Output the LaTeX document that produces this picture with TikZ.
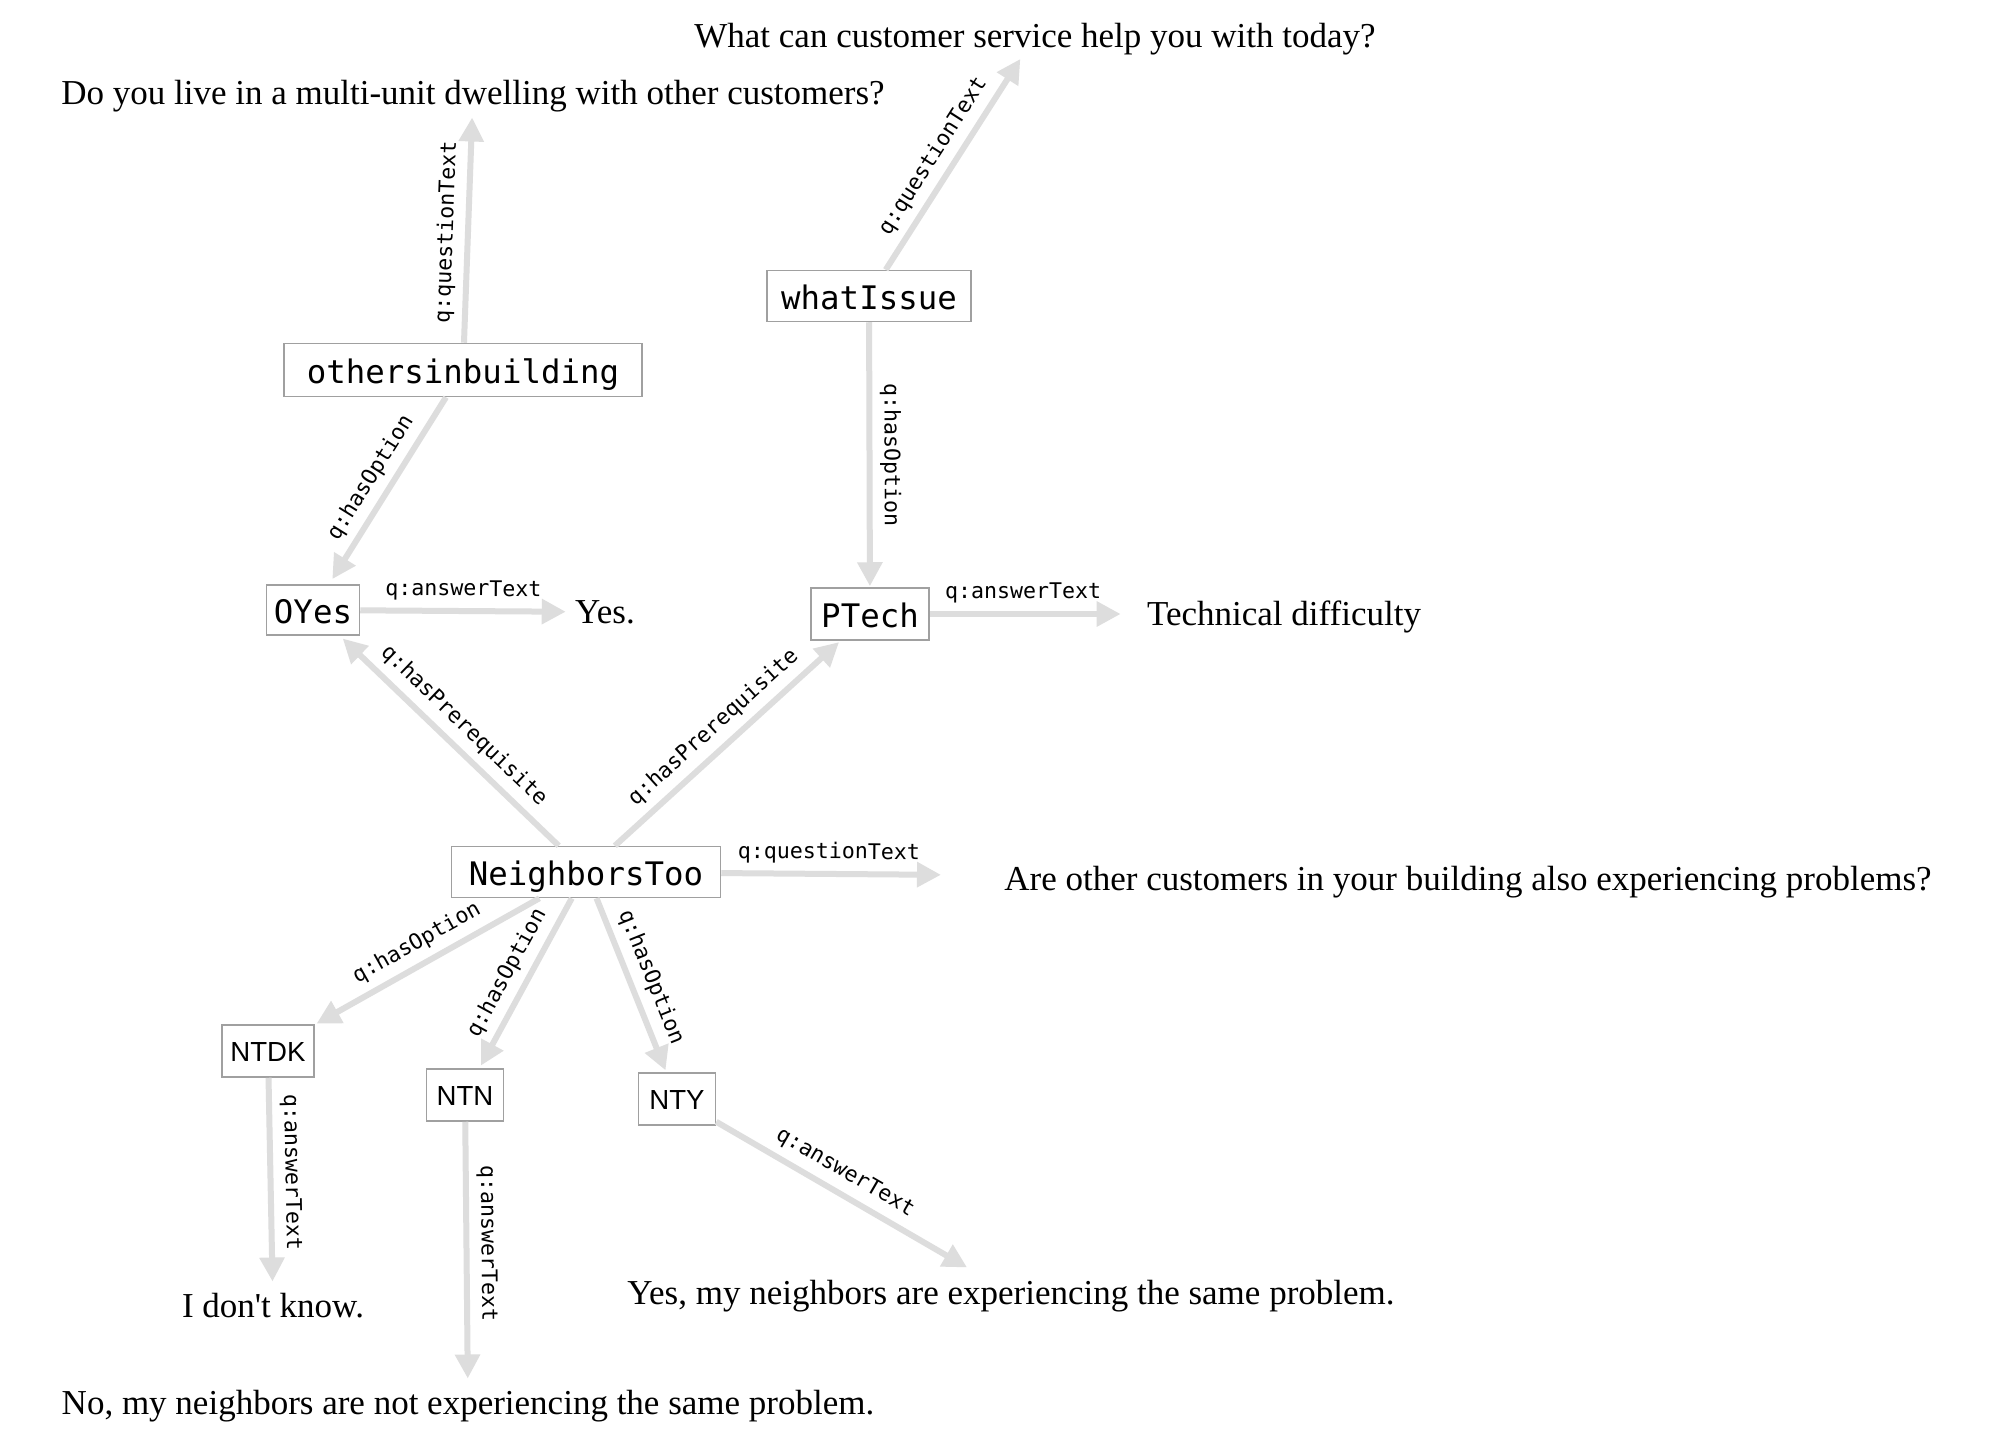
\documentclass[tikz,border=0pt]{standalone}
\usepackage{fontspec}
\setmainfont{Liberation Serif}
\newfontfamily\monof{DejaVu Sans Mono}
\newfontfamily\sansf{Liberation Sans}
\usetikzlibrary{arrows.meta}
\definecolor{edgegray}{HTML}{DDDDDD}
\definecolor{boxgray}{HTML}{A0A0A0}
\begin{document}
\begin{tikzpicture}[x=0.5pt,y=-0.5pt,
  qbox/.style={draw=boxgray, line width=0.75pt, fill=white, inner sep=0pt,
    font=\monof\fontsize{16.2}{19}\selectfont, text height=14.4pt, text depth=1.2pt},
  sbox/.style={qbox, font=\sansf\fontsize{13.8}{16}\selectfont, text height=12.4pt, text depth=1.8pt},
  txt/.style={inner sep=0pt, font=\fontsize{17.5}{21}\selectfont, text height=14pt, text depth=2.3pt},
  edge/.style={draw=edgegray, line width=3pt, -{Triangle[length=12pt,width=12pt]}},
  lbl/.style={sloped, above=3.5pt, inner sep=0pt, font=\monof\fontsize{10.8}{13}\selectfont,
    text height=8pt, text depth=2.6pt}]
\useasboundingbox (0,0) rectangle (2000,1438);
\fill[white] (0,0) rectangle (2000,1438);

% answer / question texts
\node[txt] (q1) at (1035,36) {What can customer service help you with today?};
\node[txt] (q2) at (473,93) {Do you live in a multi-unit dwelling with other customers?};
\node[txt] (yes) at (605,612) {Yes.};
\node[txt] (tech) at (1284,614) {Technical difficulty};
\node[txt] (q3) at (1468,879) {Are other customers in your building also experiencing problems?};
\node[txt] (idk) at (273,1306) {I don\textquotesingle t know.};
\node[txt] (no) at (468,1403) {No, my neighbors are not experiencing the same problem.};
\node[txt] (yesn) at (1011,1293) {Yes, my neighbors are experiencing the same problem.};

% boxes
\node[qbox, minimum width=179pt, minimum height=26.5pt] (oib) at (463,370) {othersinbuilding};
\node[qbox, minimum width=102pt, minimum height=25.5pt] (wi) at (869,296) {whatIssue};
\node[qbox, minimum width=46.5pt, minimum height=25pt] (oyes) at (313,610) {OYes};
\node[qbox, minimum width=59pt, minimum height=26pt] (ptech) at (870,614) {PTech};
\node[qbox, minimum width=134.5pt, minimum height=25.5pt] (nt) at (586,872) {NeighborsToo};
\node[sbox, minimum width=46pt, minimum height=26pt] (ntdk) at (268,1051) {NTDK};
\node[sbox, minimum width=38.5pt, minimum height=26pt] (ntn) at (465,1095) {NTN};
\node[sbox, minimum width=38.5pt, minimum height=26pt] (nty) at (677,1099) {NTY};

% connectors
\draw[edge, shorten >=3.9pt] (oib) -- node[lbl, pos=0.47] {q:questionText} (q2);
\draw[edge, shorten >=3.7pt] (wi) -- node[lbl, pos=0.47] {q:questionText} (q1);
\draw[edge, shorten >=3pt] (oib) -- node[lbl, pos=0.49] {q:hasOption} (oyes);
\draw[edge, shorten >=0.5pt] (wi) -- node[lbl] {q:hasOption} (ptech);
\draw[edge, shorten >=4.5pt] (oyes) -- node[lbl, pos=0.48] {q:answerText} (yes);
\draw[edge, shorten >=13pt] (ptech) -- node[lbl, pos=0.43] {q:answerText} (tech);
\draw[edge, shorten >=2pt] (nt) -- node[lbl] {q:hasPrerequisite} (oyes);
\draw[edge, shorten >=1pt] (nt) -- node[lbl] {q:hasPrerequisite} (ptech);
\draw[edge, shorten >=31.5pt] (nt) -- node[lbl, pos=0.38] {q:questionText} (q3);
\draw[edge, shorten >=1pt] (nt) -- node[lbl] {q:hasOption} (ntdk);
\draw[edge, shorten >=1.5pt] (nt) -- node[lbl] {q:hasOption} (ntn);
\draw[edge, shorten >=1pt] (nt) -- node[lbl] {q:hasOption} (nty);
\draw[edge, shorten >=3.9pt] (ntdk) -- node[lbl, pos=0.45] {q:answerText} (idk);
\draw[edge, shorten >=3.9pt] (ntn) -- node[lbl, pos=0.46] {q:answerText} (no);
\draw[edge, shorten >=8.8pt] (nty) -- node[lbl, pos=0.445] {q:answerText} (yesn);
\end{tikzpicture}
\end{document}
